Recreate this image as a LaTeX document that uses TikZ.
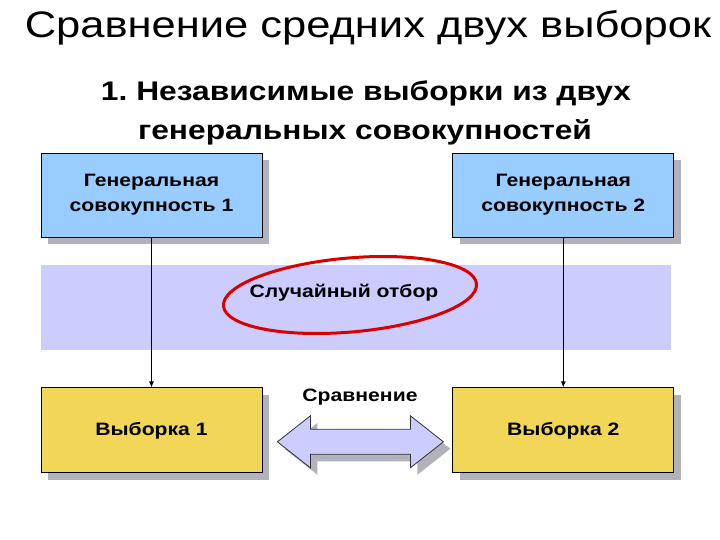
\documentclass[tikz,border=0pt]{standalone}
\usepackage{fontspec}
\setmainfont[FakeStretch=1.18]{Liberation Sans}
\usepackage{xcolor}
\usepackage{tikz}
\usetikzlibrary{arrows.meta, positioning, calc, shadows}
\frenchspacing

\definecolor{genblue}{RGB}{153,204,255}
\definecolor{selyellow}{RGB}{242,214,88}
\definecolor{lavender}{RGB}{204,204,255}
\definecolor{shadowgray}{RGB}{178,178,186}

\begin{document}
\begin{tikzpicture}[
    x=1bp, y=-1bp,
    shade/.style={drop shadow={shadow xshift=7bp, shadow yshift=-7bp, fill=shadowgray, opacity=1}},
    box/.style={rectangle, draw=black, line width=0.8bp, minimum width=221bp, minimum height=84bp, align=center, font=\bfseries\fontsize{18}{25}\selectfont, shade},
    genbox/.style={box, fill=genblue},
    selbox/.style={box, fill=selyellow, minimum height=85bp},
    line/.style={-{Latex[length=6bp, width=5bp]}, line width=0.8bp},
    ring/.style={draw=red!85!black, line width=3bp},
    label/.style={font=\bfseries\fontsize{18}{22}\selectfont}
]
\useasboundingbox (0,0) rectangle (720,540);

% Titles
\node[anchor=base, font=\fontsize{37}{42}\selectfont] (title) at (368,38) {Сравнение средних двух выборок};
\node[anchor=base, font=\bfseries\fontsize{27}{32}\selectfont] (sub1) at (366,101) {1. Независимые выборки из двух};
\node[anchor=base, font=\bfseries\fontsize{27}{32}\selectfont] (sub2) at (365,140) {генеральных совокупностей};

% Band
\node[rectangle, fill=lavender, minimum width=630bp, minimum height=85bp] (band) at (356,307.5) {};

% Nodes
\node[genbox] (gen1) at (151.5,195) {Генеральная\\совокупность 1};
\node[genbox, right=190bp of gen1] (gen2) {Генеральная\\совокупность 2};
\node[selbox, below=150bp of gen1] (sel1) {Выборка 1};
\node[selbox, right=190bp of sel1] (sel2) {Выборка 2};
\node[label] (otbor) at (344,293) {Случайный отбор};
\coordinate (cmp) at ($(sel1)!0.5!(sel2)+(3,11.5)$);
\node[label] (cmplabel) at (360,397) {Сравнение};

% Connections
\draw[line] (gen1) -- (sel1);
\draw[line] (gen2) -- (sel2);
\draw[ring, rotate around={5:(350,295)}] (350,295) ellipse [x radius=127, y radius=37];

% Double arrow
\filldraw[shade, draw=black!80, line width=0.8bp, fill=lavender, line join=miter]
  ($(cmp)+(-83,0)$) -- ++(33,-26) -- ++(0,13.5) -- ++(100,0) -- ++(0,-13.5)
  -- ++(33,26) -- ++(-33,26) -- ++(0,-13.5) -- ++(-100,0) -- ++(0,13.5) -- cycle;

\end{tikzpicture}
\end{document}
